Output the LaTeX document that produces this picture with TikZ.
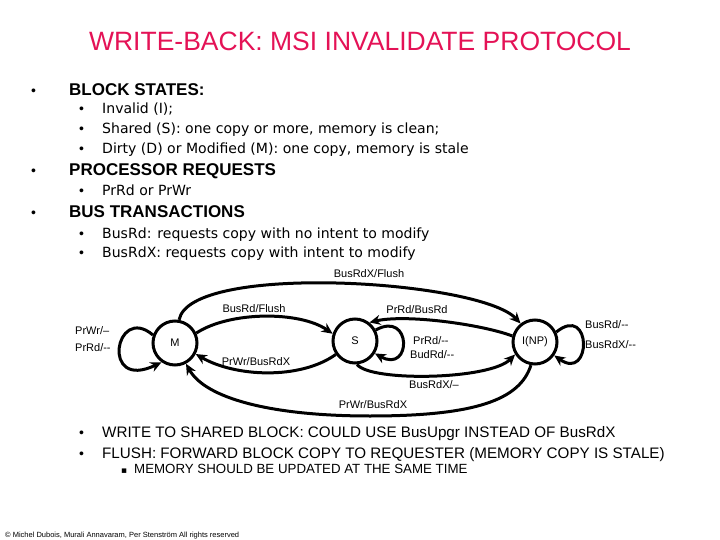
\documentclass[tikz,border=0pt]{standalone}
\usepackage{fontspec}
\setmainfont{Liberation Sans}
\newfontfamily\djv{DejaVu Sans}
\usetikzlibrary{arrows.meta}
\definecolor{titlered}{RGB}{228,18,86}
\begin{document}
\begin{tikzpicture}[x=1pt,y=-1pt,
  st/.style={circle,draw,line width=3pt,minimum size=44pt,inner sep=0pt,font=\fontsize{11}{13}\selectfont},
  tr/.style={line width=3pt,-{Stealth[length=11pt,width=10pt]}},
  lbl/.style={font=\fontsize{11}{13}\selectfont,inner sep=0pt},
  body/.style={font=\djv\fontsize{14.05}{16}\selectfont,anchor=base west,inner sep=0pt},
  bodyb/.style={font=\fontsize{15.2}{17}\selectfont,anchor=base west,inner sep=0pt},
  head/.style={font=\bfseries\fontsize{17}{19}\selectfont,anchor=base west,inner sep=0pt},
  bul/.style={font=\fontsize{14}{16}\selectfont,anchor=base west,inner sep=0pt}
]
\useasboundingbox (0,0) rectangle (720,540);

% title
\node[font=\fontsize{26.5}{30}\selectfont,text=titlered,anchor=base,inner sep=0pt] (title) at (360,51) {WRITE-BACK: MSI INVALIDATE PROTOCOL};

% bullets
\node[bul] (b1) at (31,96) {•};
\node[head] (h1) at (69,96) {BLOCK STATES:};
\node[bul] (b11) at (79,114) {•};
\node[body] (t11) at (102,114) {Invalid (I);};
\node[bul] (b12) at (79,134) {•};
\node[body] (t12) at (102,134) {Shared (S): one copy or more, memory is clean;};
\node[bul] (b13) at (79,154) {•};
\node[body] (t13) at (102,154) {Dirty (D) or Modified (M): one copy, memory is stale};
\node[bul] (b2) at (31,176) {•};
\node[head] (h2) at (69,176) {PROCESSOR REQUESTS};
\node[bul] (b21) at (79,196) {•};
\node[body] (t21) at (102,196) {PrRd or PrWr};
\node[bul] (b3) at (31,218) {•};
\node[head] (h3) at (69,218) {BUS TRANSACTIONS};
\node[bul] (b31) at (79,238) {•};
\node[body] (t31) at (102,238) {BusRd: requests copy with no intent to modify};
\node[bul] (b32) at (79,258) {•};
\node[body] (t32) at (102,258) {BusRdX: requests copy with intent to modify};

% states
\node[st] (M) at (175,343) {M};
\node[st] (S) at (355,341) {S};
\node[st] (I) at (535,342) {I(NP)};

% transitions
\draw[tr] (M.160) .. controls (115,303) and (100,392) .. (M.-125);
\node[lbl,anchor=west] (lm1) at (75,331) {PrWr/--};
\node[lbl,anchor=west] (lm2) at (75,348) {PrRd/-{}-};

\draw[tr] (M.25) .. controls (230,311) and (300,311) .. (S.162);
\node[lbl] (lms) at (254,309) {BusRd/Flush};

\draw[tr] (S.215) .. controls (300,380) and (235,377) .. (M.-28);
\node[lbl] (lsm) at (256,362) {PrWr/BusRdX};

\draw[tr] (M.80) .. controls (190,262) and (480,280) .. (I.128);
\node[lbl] (lmi) at (369,274) {BusRdX/Flush};

\draw[tr] (I.165) .. controls (480,324) and (405,314) .. (S.52);
\node[lbl] (lis) at (417,310) {PrRd/BusRd};

\draw[tr] (S.28) .. controls (412,310) and (412,374) .. (S.-32);
\node[lbl,anchor=west] (ls1) at (413,341) {PrRd/-{}-};
\node[lbl,anchor=west] (ls2) at (410,355) {BudRd/-{}-};

\draw[tr] (S.-85) .. controls (370,382) and (490,380) .. (I.212);
\node[lbl] (lsi) at (434,385) {BusRdX/--};

\draw[tr] (I.-100) .. controls (520,400) and (475,416) .. (370,416)
  .. controls (270,416) and (205,398) .. (M.-62);
\node[lbl] (lim) at (373,405) {PrWr/BusRdX};

\draw[tr] (I.25) .. controls (592,303) and (592,382) .. (I.-35);
\node[lbl,anchor=west] (li1) at (585,325) {BusRd/-{}-};
\node[lbl,anchor=west] (li2) at (585,345) {BusRdX/-{}-};

% bottom notes
\node[bul] (b4) at (79,437) {•};
\node[bodyb] (t4) at (102,437) {WRITE TO SHARED BLOCK: COULD USE BusUpgr INSTEAD OF BusRdX};
\node[bul] (b5) at (79,458) {•};
\node[bodyb] (t5) at (102,458) {FLUSH: FORWARD BLOCK COPY TO REQUESTER (MEMORY COPY IS STALE)};
\node[font=\djv\fontsize{9}{11}\selectfont,anchor=base west,inner sep=0pt] (b51) at (121,473) {▪};
\node[font=\fontsize{13.3}{15}\selectfont,anchor=base west,inner sep=0pt] (t51) at (134,473) {MEMORY SHOULD BE UPDATED AT THE SAME TIME};

% footer
\node[font=\fontsize{7.5}{9}\selectfont,anchor=base west,inner sep=0pt] (foot) at (5,537) {© Michel Dubois, Murali Annavaram, Per Stenström All rights reserved};
\end{tikzpicture}
\end{document}
